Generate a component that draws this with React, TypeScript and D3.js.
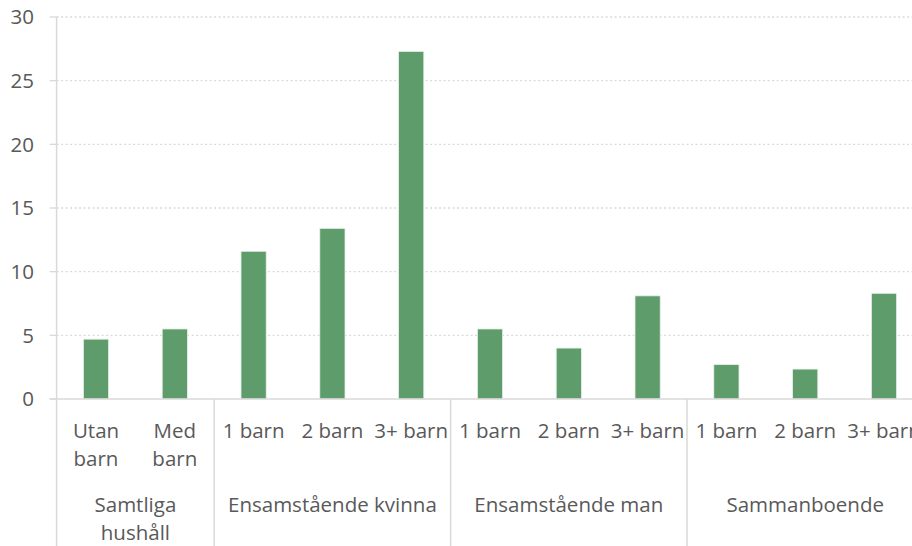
import React from 'react';
import * as d3 from 'd3';

const categories = [
  'Utan barn', 'Med barn',
  '1 barn', '2 barn', '3+ barn',
  '1 barn', '2 barn', '3+ barn',
  '1 barn', '2 barn', '3+ barn',
];
const categoryLines = [
  ['Utan', 'barn'], ['Med', 'barn'],
  ['1 barn'], ['2 barn'], ['3+ barn'],
  ['1 barn'], ['2 barn'], ['3+ barn'],
  ['1 barn'], ['2 barn'], ['3+ barn'],
];
const values = [4.7, 5.5, 11.6, 13.4, 27.3, 5.5, 4.0, 8.1, 2.7, 2.35, 8.3];
const groups = [
  { name: ['Samtliga', 'hushåll'], size: 2 },
  { name: ['Ensamstående kvinna'], size: 3 },
  { name: ['Ensamstående man'], size: 3 },
  { name: ['Sammanboende'], size: 3 },
];
const yTicks = [0, 5, 10, 15, 20, 25, 30];

const W = 912;
const H = 546;
const left = 56.6;
const step = 78.8;
const font = '"Open Sans", Lato, sans-serif';
const fs = 20.5;
const textColor = '#595959';
const lineColor = '#d9d9d9';

export default function App() {
  const idx = categories.map((_, i) => String(i));
  const x = d3.scaleBand<string>()
    .domain(idx)
    .range([left, left + step * categories.length])
    .paddingInner(0.68)
    .paddingOuter(0.34);
  const y = d3.scaleLinear().domain([0, 30]).range([399, 17]);

  // group boundaries
  let acc = 0;
  const bounds = groups.map(g => {
    const start = acc;
    acc += g.size;
    return { ...g, x0: left + start * step, x1: left + acc * step };
  });

  return (
    <svg width={W} height={H} style={{ position: 'fixed', left: 0, top: 0, background: '#fff' }}
      fontFamily={font}>
      {yTicks.map(t => (
        <g key={t}>
          {t > 0 && (
            <line x1={left} x2={W} y1={y(t)} y2={y(t)} stroke={lineColor}
              strokeWidth={1.3} strokeDasharray="2 2.5" />
          )}
          <line x1={left - 7} x2={left} y1={y(t)} y2={y(t)} stroke={lineColor} strokeWidth={1.3} />
          <text x={34} y={y(t)} dy="0.35em" textAnchor="end" fontSize={fs} fill={textColor}>{t}</text>
        </g>
      ))}
      {values.map((v, i) => (
        <rect key={i} x={x(String(i))} y={y(v)} width={x.bandwidth()} height={y(0) - y(v)}
          fill="#5e9c6c" stroke="#e8f0ea" strokeWidth={0.8} />
      ))}
      <line x1={left} x2={left} y1={y(30)} y2={H} stroke={lineColor} strokeWidth={1.5} />
      <line x1={left - 7} x2={W} y1={y(0)} y2={y(0)} stroke={lineColor} strokeWidth={1.5} />
      {bounds.map((b, i) => (
        <g key={i}>
          {i > 0 && <line x1={b.x0} x2={b.x0} y1={y(0)} y2={H} stroke={lineColor} strokeWidth={1.5} />}
          {b.name.map((ln, j) => (
            <text key={j} x={(b.x0 + b.x1) / 2} y={512 + j * 28} textAnchor="middle"
              fontSize={fs} fill={textColor}>{ln}</text>
          ))}
        </g>
      ))}
      {categoryLines.map((lines, i) => (
        lines.map((ln, j) => (
          <text key={i + '-' + j} x={(x(String(i)) as number) + x.bandwidth() / 2} y={438 + j * 28}
            textAnchor="middle" fontSize={fs} fill={textColor}>{ln}</text>
        ))
      ))}
    </svg>
  );
}
